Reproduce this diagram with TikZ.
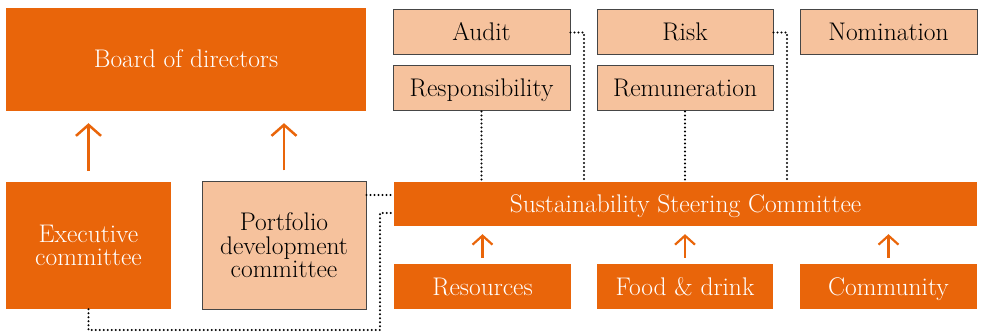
\documentclass[tikz,border=0pt]{standalone}
\usepackage{fontspec}
\usetikzlibrary{arrows.meta}
\definecolor{org}{RGB}{233,101,10}
\definecolor{lite}{RGB}{246,194,157}
\definecolor{edge}{RGB}{70,70,70}
\begin{document}
\begin{tikzpicture}[x=1pt,y=-1pt,
  base/.style={rectangle,inner sep=0pt,align=center,font=\fontsize{25.5}{23.5}\selectfont},
  oneline/.style={text height=17pt,text depth=0pt},
  obox/.style={base,fill=org,text=white},
  lbox/.style={base,fill=lite,draw=edge,line width=1pt,text=black},
  bigarr/.style={draw=org,line width=2.5pt,-{Straight Barb[length=11pt,width=25pt,line width=2.5pt]}},
  smallarr/.style={draw=org,line width=2.2pt,-{Straight Barb[length=9pt,width=20pt,line width=2.2pt]}},
  dots/.style={draw=black,line width=2.2pt,line cap=round,dash pattern=on 0pt off 4pt}]
\useasboundingbox (0,0) rectangle (981,336);
% boxes
\node[obox,oneline,minimum width=360pt,minimum height=103pt] (board) at (186,59.5) {Board of directors};
\node[lbox,oneline,minimum width=177pt,minimum height=45pt] (audit) at (481.5,32.5) {Audit};
\node[lbox,oneline,minimum width=176pt,minimum height=45pt] (risk) at (685,32.5) {Risk};
\node[lbox,oneline,minimum width=177pt,minimum height=45pt] (nom) at (888.5,32.5) {Nomination};
\node[lbox,oneline,minimum width=177pt,minimum height=45pt] (resp) at (481.5,88.5) {Responsibility};
\node[lbox,oneline,minimum width=176pt,minimum height=45pt] (remun) at (685,88.5) {Remuneration};
\node[obox,minimum width=165pt,minimum height=127pt] (exec) at (88.5,245.5) {Executive\\committee};
\node[lbox,minimum width=164pt,minimum height=127pt] (port) at (284,245.5) {Portfolio\\development\\committee};
\node[obox,oneline,minimum width=583pt,minimum height=44pt] (ssc) at (685.5,204) {Sustainability Steering Committee};
\node[obox,oneline,minimum width=177pt,minimum height=45pt] (res) at (482.5,286.5) {Resources};
\node[obox,oneline,minimum width=176pt,minimum height=45pt] (food) at (685,286.5) {Food \& drink};
\node[obox,oneline,minimum width=177pt,minimum height=45pt] (comm) at (888.5,286.5) {Community};
% arrows
\draw[bigarr] ([yshift=11pt]exec.north) -- ([yshift=-12pt]exec.north |- board.south);
\draw[bigarr] ([yshift=11pt]port.north) -- ([yshift=-12pt]port.north |- board.south);
\draw[smallarr] ([yshift=6pt]res.north) -- ([yshift=-8pt]res.north |- ssc.south);
\draw[smallarr] ([yshift=6pt]food.north) -- ([yshift=-8pt]food.north |- ssc.south);
\draw[smallarr] ([yshift=6pt]comm.north) -- ([yshift=-8pt]comm.north |- ssc.south);
% dotted connectors
\coordinate (a1) at (584,182);
\coordinate (r1) at (787,182);
\coordinate (p1) at (394,195);
\coordinate (e1) at (380,330);
\coordinate (e2) at (394,213);
\draw[dots] (resp.south) -- (resp.south |- ssc.north);
\draw[dots] (remun.south) -- (remun.south |- ssc.north);
\draw[dots] (audit.east) -| (a1);
\draw[dots] (risk.east) -| (r1);
\draw[dots] (p1 -| port.east) -- (p1);
\draw[dots] (exec.south) |- (e1) |- (e2);
\end{tikzpicture}
\end{document}
